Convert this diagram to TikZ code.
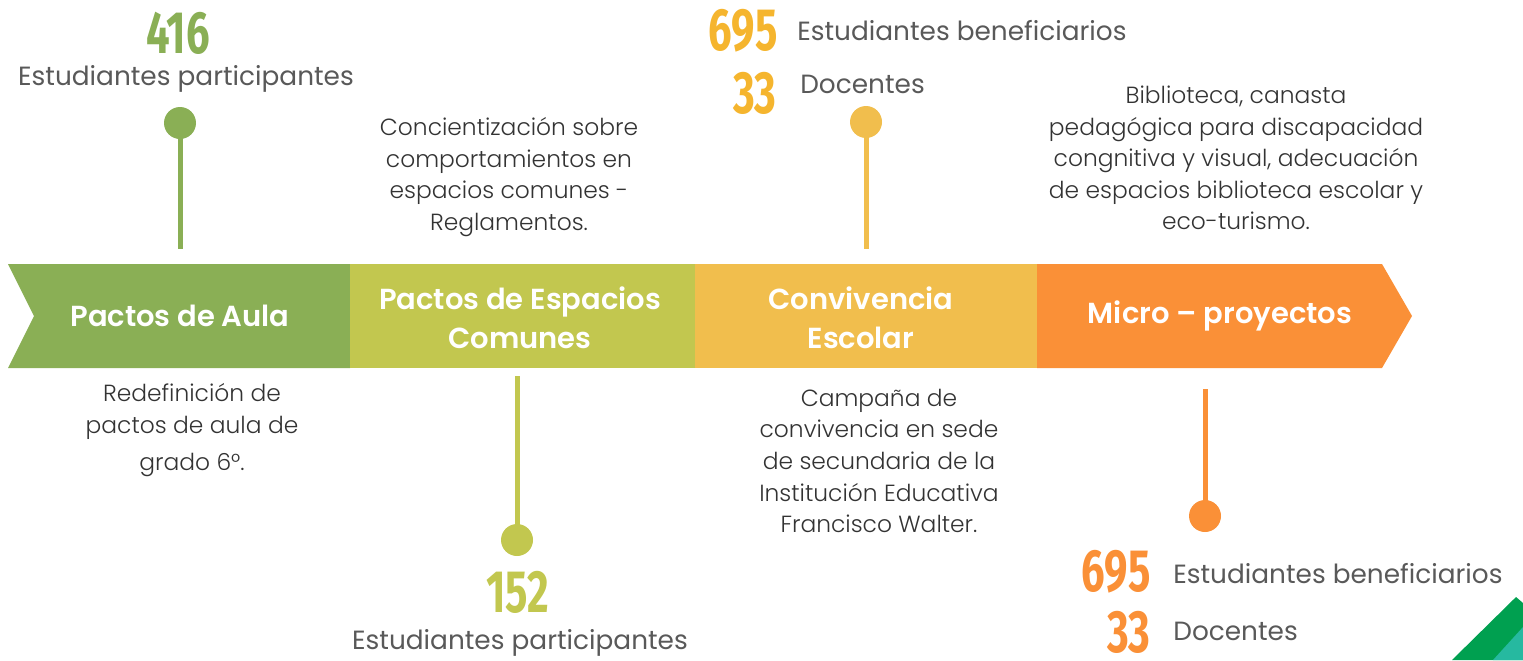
\documentclass[tikz,border=0pt]{standalone}
\usepackage{fontspec}
\setmainfont{Poppins}
\newfontfamily\lightfont{Poppins Light}
\newfontfamily\bandfont{Poppins SemiBold}
\newfontfamily\numfont{Fira Sans}
\usetikzlibrary{positioning}
\definecolor{cgreen}{HTML}{8AAF55}
\definecolor{clime}{HTML}{C2C74F}
\definecolor{camber}{HTML}{F1BE4D}
\definecolor{corange}{HTML}{FA9037}
\definecolor{cnum}{HTML}{F5B52E}
\definecolor{cgray}{HTML}{595959}
\definecolor{cdesc}{HTML}{333333}
\definecolor{cdkgreen}{HTML}{00A050}
\definecolor{cteal}{HTML}{26B9A0}
\tikzset{
  band/.style={white,font=\bandfont\fontsize{16.5}{22}\selectfont,align=center},
  desc/.style={text=cdesc,font=\lightfont\fontsize{13.3}{18}\selectfont,align=center},
  lbl/.style={text=cgray,font=\fontsize{15}{17}\selectfont,inner sep=0pt},
  bignum/.style={font=\numfont\bfseries\fontsize{34}{34}\selectfont,inner sep=0pt},
  dotnode/.style={circle,fill=#1,minimum size=0.64cm,inner sep=0pt},
  stemline/.style={draw=#1,line width=0.1cm},
}
\newcommand{\cond}[1]{\scalebox{0.7}[1]{#1}}
\begin{document}
\begin{tikzpicture}[x=0.02cm,y=-0.02cm]
\useasboundingbox (0,0) rectangle (1523,660);
% banner
\fill[cgreen] (8,264) -- (350,264) -- (350,368) -- (8,368) -- (34,316) -- cycle;
\fill[clime] (350,264) rectangle (695,368);
\fill[camber] (695,264) rectangle (1037,368);
\fill[corange] (1037,264) -- (1382,264) -- (1412,316) -- (1382,368) -- (1037,368) -- cycle;
\node[band] (b1) at (180,316) {Pactos de Aula};
\node[band] (b2) at (520,318) {Pactos de Espacios\\Comunes};
\node[band] (b3) at (861,318) {Convivencia\\Escolar};
\node[band] (b4) at (1220,316) {Micro – proyectos};
% stems and dots
\node[dotnode=cgreen] (d1) at (180,123) {};
\coordinate (e1) at (180,249);
\draw[stemline=cgreen] (d1.center) -- (e1);
\node[dotnode=clime] (d2) at (517,540) {};
\coordinate (e2) at (517,376);
\draw[stemline=clime] (e2) -- (d2.center);
\node[dotnode=camber] (d3) at (866,122) {};
\coordinate (e3) at (866,249);
\draw[stemline=camber] (d3.center) -- (e3);
\node[dotnode=corange] (d4) at (1205,516) {};
\coordinate (e4) at (1205,389);
\draw[stemline=corange] (e4) -- (d4.center);
% numbers and labels
\node[bignum,text=cgreen] (n1) at (178,33) {\cond{416}};
\node[lbl] (l1) at (186,79) {Estudiantes participantes};
\node[bignum,text=clime] (n2) at (518,592) {\cond{152}};
\node[lbl] (l2) at (520,643) {Estudiantes participantes};
\node[bignum,text=cnum,anchor=east] (n3) at (778,31) {\cond{695}};
\node[lbl,anchor=west] (l3) at (797,31) {Estudiantes beneficiarios};
\node[bignum,text=cnum,anchor=east] (n4) at (777,93) {\cond{33}};
\node[lbl,anchor=west] (l4) at (800,84) {Docentes};
\node[bignum,text=corange,anchor=east] (n5) at (1151,572) {\cond{695}};
\node[lbl,anchor=west] (l5) at (1173,574) {Estudiantes beneficiarios};
\node[bignum,text=corange,anchor=base east] (n6) at (1151,652) {\cond{33}};
\node[lbl,anchor=west] (l6) at (1173,631) {Docentes};
% descriptions
\node[desc] (t1) at (509,177) {Concientización sobre\\comportamientos en\\espacios comunes -\\Reglamentos.};
\node[desc] (t2) at (1236,158) {Biblioteca, canasta\\pedagógica para discapacidad\\congnitiva y visual, adecuación\\de espacios biblioteca escolar y\\eco-turismo.};
\node[desc] (t3) at (192,430) {Redefinición de\\pactos de aula de\\[3pt]grado 6°.};
\node[desc] (t4) at (879,461) {Campaña de\\convivencia en sede\\de secundaria de la\\Institución Educativa\\Francisco Walter.};
% corner
\fill[cdkgreen] (1452,660) -- (1516,597) -- (1523,603) -- (1523,660) -- cycle;
\fill[cteal] (1493,660) -- (1523,627) -- (1523,660) -- cycle;
\end{tikzpicture}
\end{document}
